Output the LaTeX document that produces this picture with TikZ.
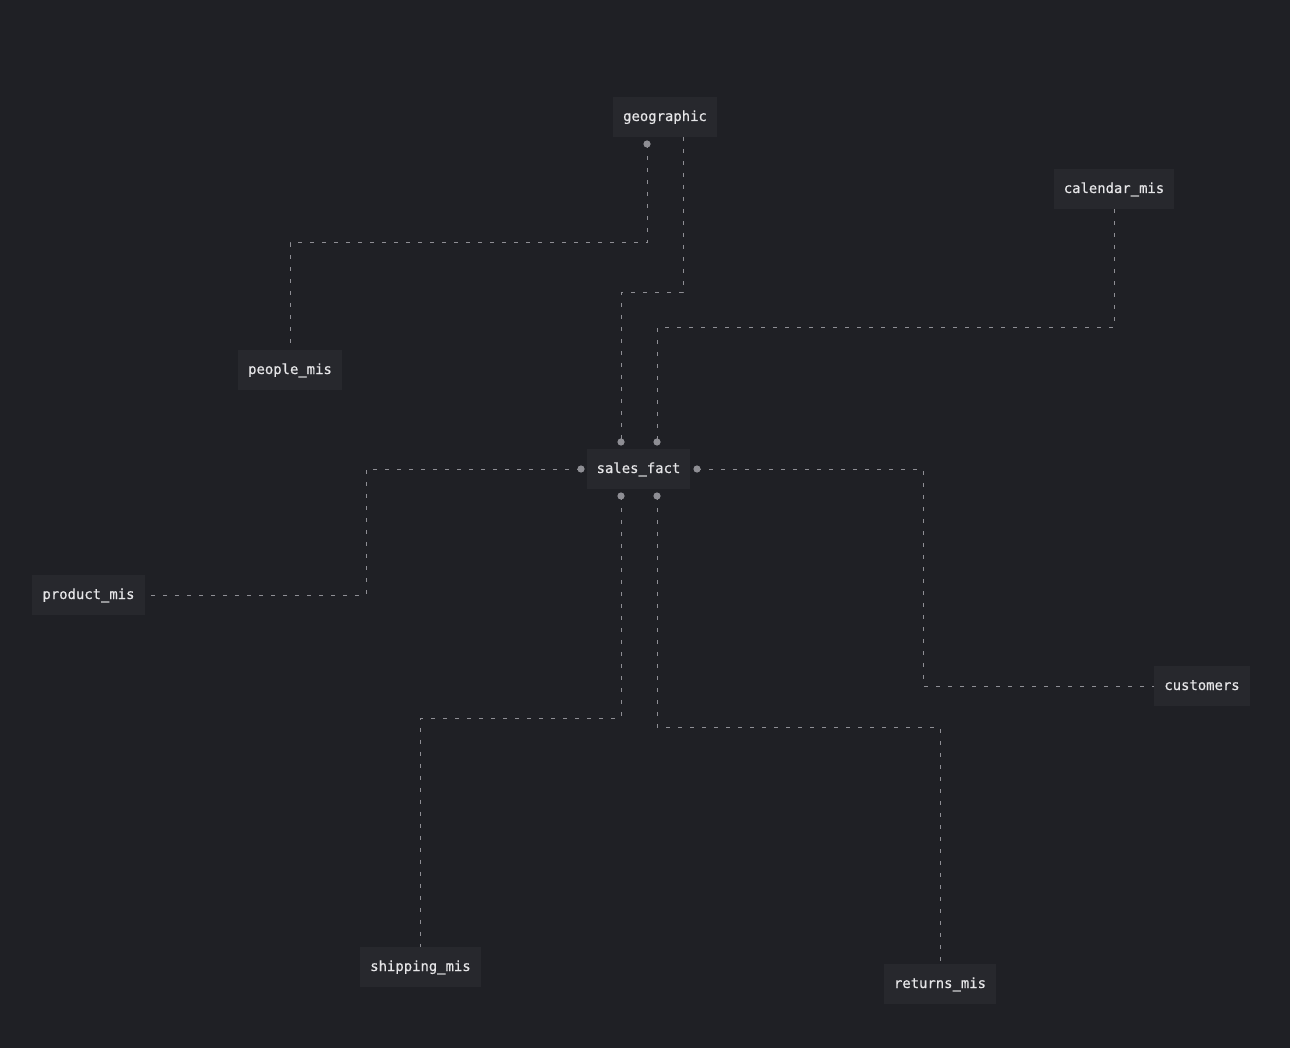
\documentclass[tikz,border=0pt]{standalone}
\usepackage{fontspec}
\newfontfamily\lblfont{DejaVu Sans Mono}[FakeBold=0.5]
\definecolor{bg}{HTML}{1F2025}
\definecolor{boxc}{HTML}{27282D}
\definecolor{txtc}{HTML}{E6E6E8}
\definecolor{linec}{HTML}{8E8E94}
\begin{document}
\begin{tikzpicture}[x=1pt,y=-1pt,
  tbl/.style={fill=boxc,text=txtc,font=\lblfont\fontsize{13.9}{16}\selectfont,
    minimum height=40pt,inner xsep=10pt,inner ysep=0pt,anchor=center,
    text height=10pt,text depth=2pt},
  conn/.style={draw=linec,line width=1pt,dash pattern=on 4pt off 8pt},
  dotc/.style={fill=linec}]
\path[fill=bg] (0,0) rectangle (1290,1048);
\node[tbl] (geo) at (665,117) {geographic};
\node[tbl] (cal) at (1114,189) {calendar\_mis};
\node[tbl] (peo) at (290,370) {people\_mis};
\node[tbl] (sf) at (638.5,469) {sales\_fact};
\node[tbl] (prod) at (88.5,595) {product\_mis};
\node[tbl] (cust) at (1202,686) {customers};
\node[tbl] (ship) at (420.5,967) {shipping\_mis};
\node[tbl] (ret) at (940,984) {returns\_mis};
% anchor coordinates
\coordinate (g1) at (647,144);
\coordinate (g2) at (683,137);
\coordinate (c1) at (cal.south);
\coordinate (s1) at (621,442);
\coordinate (s2) at (657,442);
\coordinate (sl) at (581,469);
\coordinate (sr) at (697,469);
\coordinate (s3) at (621,496);
\coordinate (s4) at (657,496);
% connectors
\draw[conn] (g1) -- (g1 |- 0,243) -- (peo.north |- 0,243) -- (peo.north);
\draw[conn] (g2) -- (g2 |- 0,293) -- (s1 |- 0,293) -- (s1);
\draw[conn] (c1) -- (c1 |- 0,328) -- (s2 |- 0,328) -- (s2);
\draw[conn] (sl) -- (366,469) -- (366,595) -- (prod.east);
\draw[conn] (sr) -- (923,469) -- (923,686) -- (cust.west);
\draw[conn] (s3) -- (s3 |- 0,718) -- (ship.north |- 0,718) -- (ship.north);
\draw[conn] (s4) -- (s4 |- 0,727) -- (ret.north |- 0,727) -- (ret.north);
% dots
\foreach \p in {g1,s1,s2,sl,sr,s3,s4} \fill[dotc] (\p) circle (3.6pt);
\end{tikzpicture}
\end{document}
